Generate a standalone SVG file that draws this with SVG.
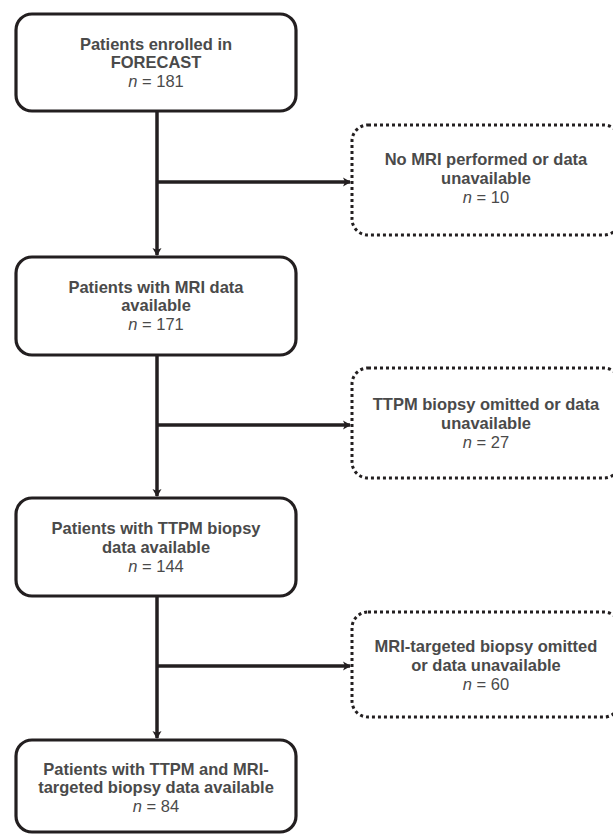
<svg xmlns="http://www.w3.org/2000/svg" width="613" height="836" viewBox="0 0 613 836">
<style>
.box{fill:#fff;stroke:#231f20;stroke-width:3.2}
.dbox{fill:#fff;stroke:#231f20;stroke-width:3;stroke-dasharray:3 3}
.t{font-family:"Liberation Sans",Arial,sans-serif;font-size:16.5px;fill:#4a4a4a;text-anchor:middle}
.b{font-weight:bold}
.line{fill:none;stroke:#231f20;stroke-width:3.5}
</style>
<defs>
<marker id="ah" markerWidth="10" markerHeight="10" refX="7" refY="5" orient="auto" markerUnits="userSpaceOnUse">
<path d="M0,0.5 L8,5 L0,9.5 L2,5 Z" fill="#231f20"/>
</marker>
</defs>
<rect width="613" height="836" fill="#fff"/>
<g id="connectors">
<line class="line" x1="157" y1="111" x2="157" y2="255" marker-end="url(#ah)"/>
<line class="line" x1="157" y1="182" x2="350" y2="182" marker-end="url(#ah)"/>
<line class="line" x1="157" y1="355" x2="157" y2="496" marker-end="url(#ah)"/>
<line class="line" x1="157" y1="425" x2="350" y2="425" marker-end="url(#ah)"/>
<line class="line" x1="157" y1="596" x2="157" y2="738" marker-end="url(#ah)"/>
<line class="line" x1="157" y1="666" x2="350" y2="666" marker-end="url(#ah)"/>
</g>
<g id="n1">
<rect class="box" x="16" y="14" width="280" height="97" rx="16"/>
<text class="t b" x="156" y="50">Patients enrolled in</text>
<text class="t b" x="156" y="68">FORECAST</text>
<text class="t" x="156" y="87"><tspan font-style="italic">n</tspan> = 181</text>
</g>
<g id="x1">
<rect class="dbox" x="352" y="125" width="268" height="110" rx="16"/>
<text class="t b" x="486" y="165">No MRI performed or data</text>
<text class="t b" x="486" y="184">unavailable</text>
<text class="t" x="486" y="203"><tspan font-style="italic">n</tspan> = 10</text>
</g>
<g id="n2">
<rect class="box" x="16" y="257" width="280" height="98" rx="16"/>
<text class="t b" x="156" y="293">Patients with MRI data</text>
<text class="t b" x="156" y="311">available</text>
<text class="t" x="156" y="330"><tspan font-style="italic">n</tspan> = 171</text>
</g>
<g id="x2">
<rect class="dbox" x="352" y="368" width="268" height="110" rx="16"/>
<text class="t b" x="486" y="410">TTPM biopsy omitted or data</text>
<text class="t b" x="486" y="429">unavailable</text>
<text class="t" x="486" y="448"><tspan font-style="italic">n</tspan> = 27</text>
</g>
<g id="n3">
<rect class="box" x="16" y="498" width="280" height="98" rx="16"/>
<text class="t b" x="156" y="534">Patients with TTPM biopsy</text>
<text class="t b" x="156" y="553">data available</text>
<text class="t" x="156" y="572"><tspan font-style="italic">n</tspan> = 144</text>
</g>
<g id="x3">
<rect class="dbox" x="352" y="612" width="268" height="105" rx="16"/>
<text class="t b" x="486" y="652">MRI-targeted biopsy omitted</text>
<text class="t b" x="486" y="671">or data unavailable</text>
<text class="t" x="486" y="690"><tspan font-style="italic">n</tspan> = 60</text>
</g>
<g id="n4">
<rect class="box" x="16" y="740" width="280" height="92" rx="16"/>
<text class="t b" x="156" y="775">Patients with TTPM and MRI-</text>
<text class="t b" x="156" y="793">targeted biopsy data available</text>
<text class="t" x="156" y="812"><tspan font-style="italic">n</tspan> = 84</text>
</g>
</svg>
